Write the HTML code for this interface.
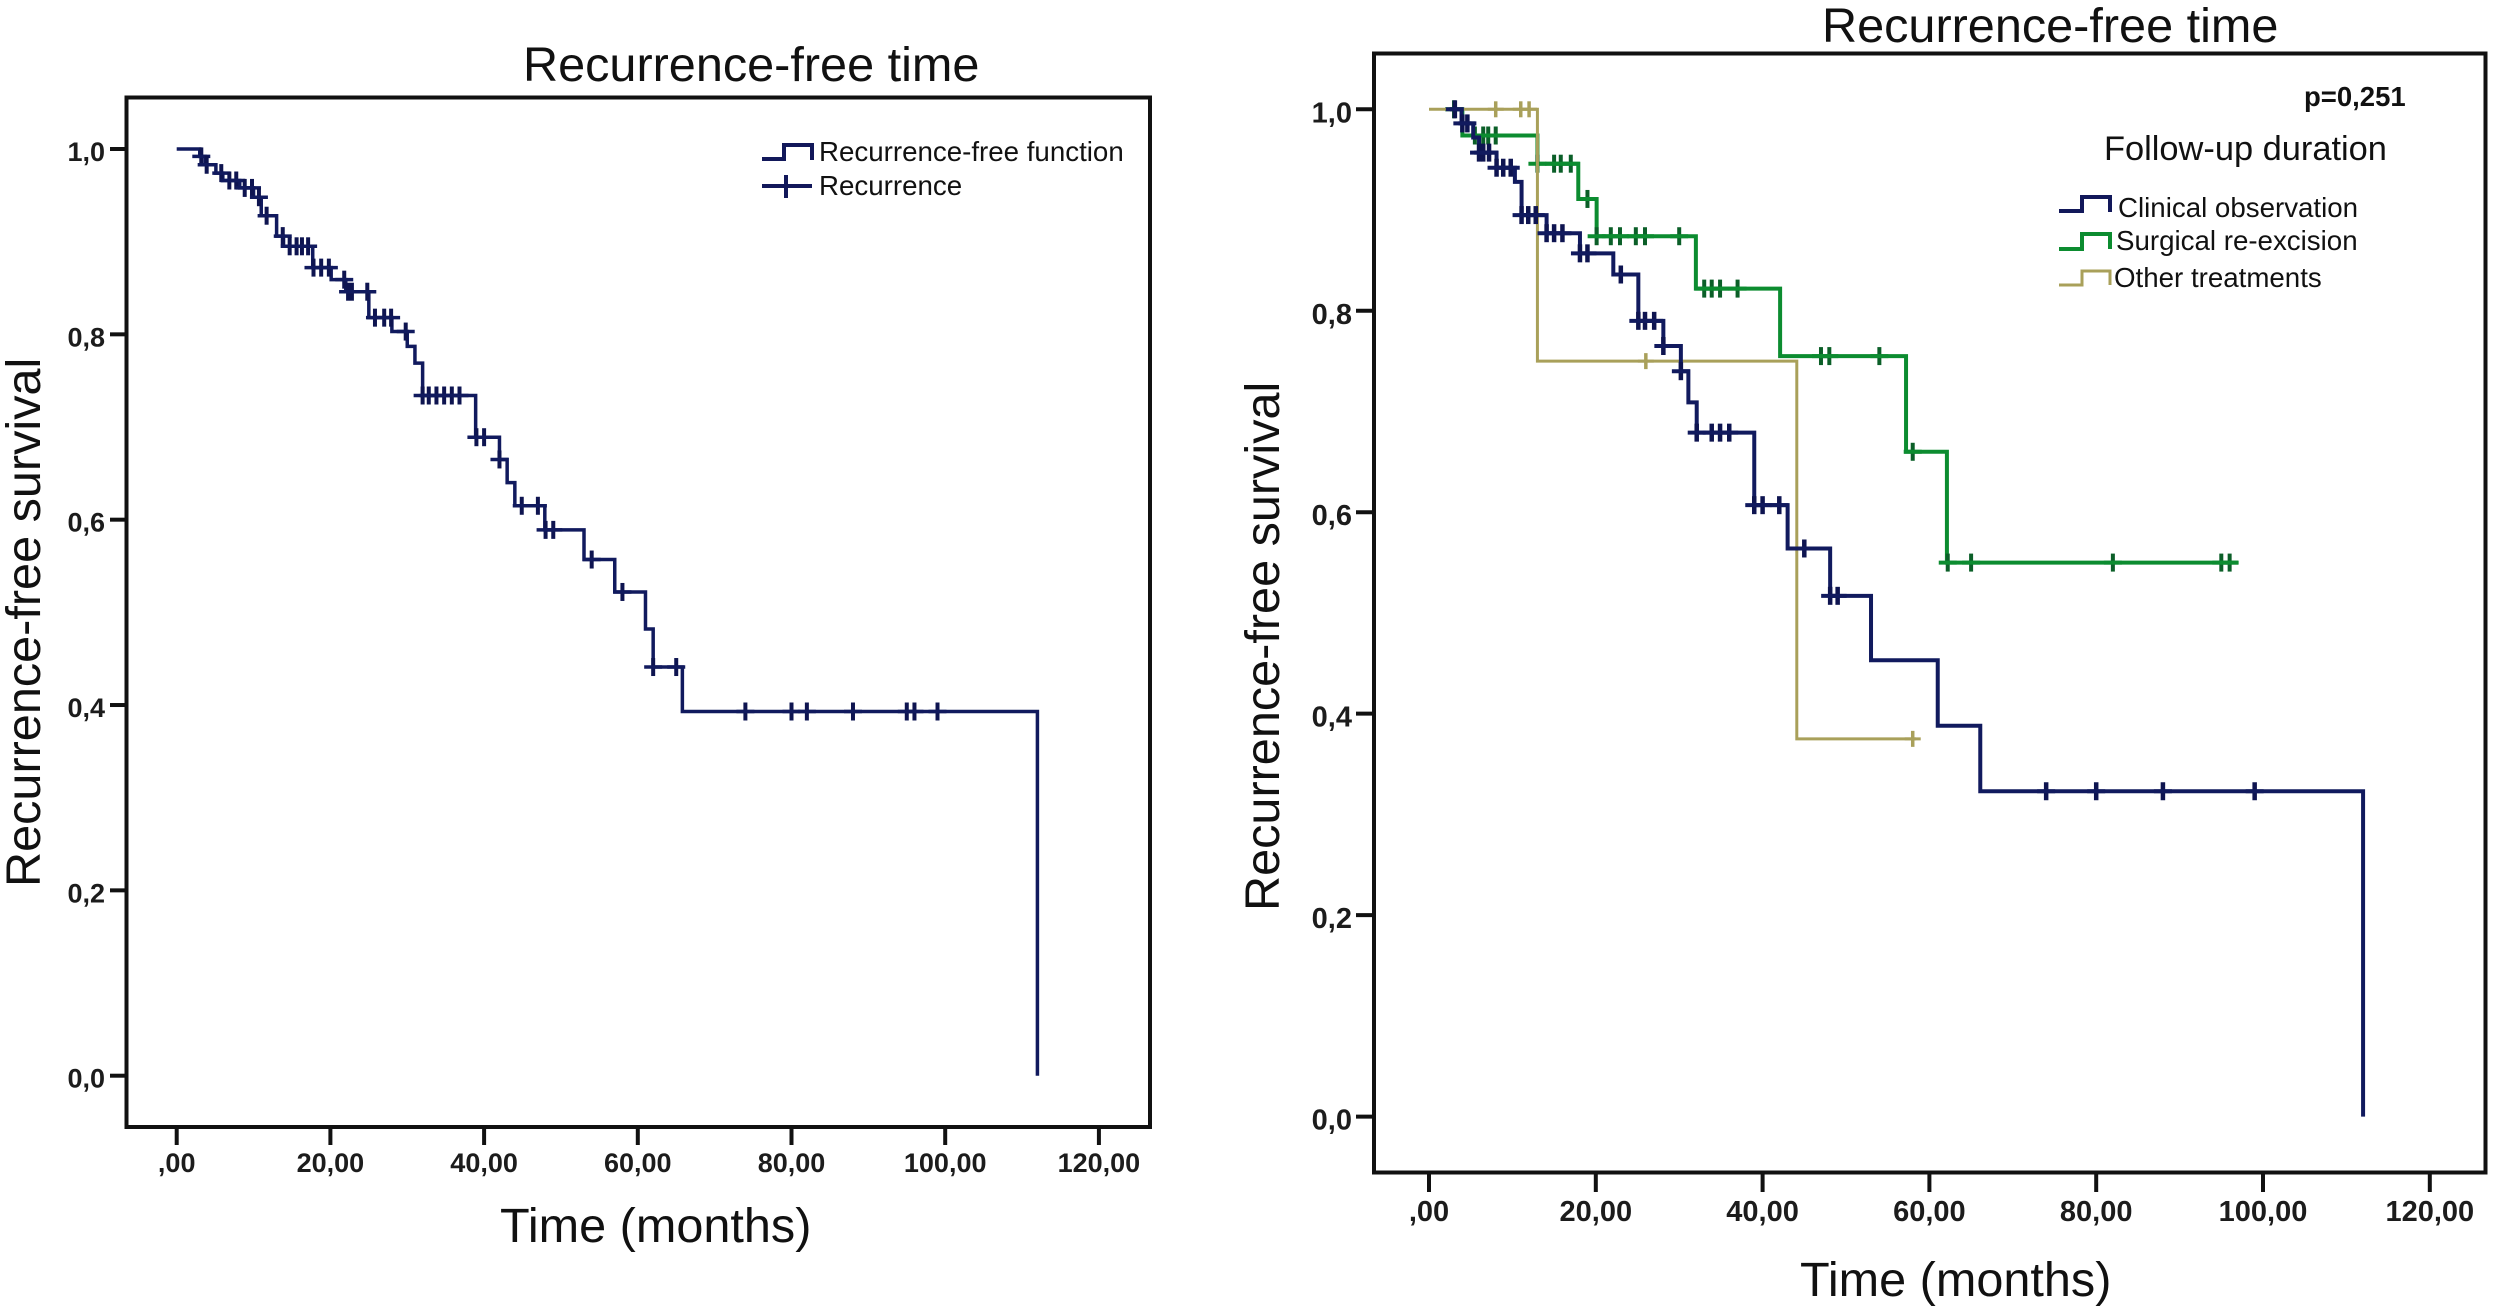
<!DOCTYPE html>
<html lang="en">
<head>
<meta charset="utf-8">
<title>Recurrence-free time</title>
<style>
html,body{margin:0;padding:0;background:#fff;width:2500px;height:1311px;overflow:hidden}
svg{display:block;font-family:"Liberation Sans",sans-serif;fill:#111}
.tick-label{font-size:27px;font-weight:bold;fill:#1c1c1c}
.tick-label-r{font-size:29px;font-weight:bold;fill:#1c1c1c}
.big{font-size:48.6px;fill:#111}
.leg{font-size:27.7px;fill:#111}
</style>
</head>
<body>
<svg id="figure" width="2500" height="1311" viewBox="0 0 2500 1311" xmlns="http://www.w3.org/2000/svg">
  <g id="left-chart">
    <rect x="126.5" y="97.5" width="1023.5" height="1029.5" fill="none" stroke="#111" stroke-width="4"/>
    <text class="big" x="523" y="81">Recurrence-free time</text>
    <text class="big" x="500" y="1242">Time (months)</text>
    <text class="big" transform="translate(40,887) rotate(-90)">Recurrence-free survival</text>
    <g>
      <path d="M762 159H784V145H812V160" fill="none" stroke="#12185a" stroke-width="4"/>
      <text class="leg" x="819" y="161">Recurrence-free function</text>
      <path d="M762 186H812M786 175V198" fill="none" stroke="#12185a" stroke-width="4"/>
      <text class="leg" x="819" y="195">Recurrence</text>
    </g>
  </g>
  <g id="right-chart">
    <rect x="1374" y="53.5" width="1111.5" height="1119" fill="none" stroke="#111" stroke-width="4"/>
    <text class="big" x="1822" y="42">Recurrence-free time</text>
    <text class="big" x="1800" y="1296">Time (months)</text>
    <text class="big" transform="translate(1279,911) rotate(-90)">Recurrence-free survival</text>
    <text x="2304" y="106" font-size="27.5" font-weight="bold">p=0,251</text>
    <text x="2104" y="160" font-size="34.4">Follow-up duration</text>
    <g>
      <path d="M2059 211H2082V197H2110V212" fill="none" stroke="#12185a" stroke-width="4"/>
      <text class="leg" x="2118" y="217">Clinical observation</text>
      <path d="M2059 249H2082V234H2110V249" fill="none" stroke="#0c8c30" stroke-width="4"/>
      <text class="leg" x="2116" y="250">Surgical re-excision</text>
      <path d="M2059 285H2082V271H2110V285" fill="none" stroke="#a9a05a" stroke-width="3"/>
      <text class="leg" x="2114" y="287">Other treatments</text>
    </g>
  </g>
</svg>
<script>
// Axis tick values and labels
var xTicks = [0, 20, 40, 60, 80, 100, 120];
var xTickLabels = [",00", "20,00", "40,00", "60,00", "80,00", "100,00", "120,00"];
var yTicks = [0, 0.2, 0.4, 0.6, 0.8, 1.0];
var yTickLabels = ["0,0", "0,2", "0,4", "0,6", "0,8", "1,0"];

// Overall curve (left chart)
var overallEventTimes = [3, 3.7, 5.1, 6, 8.2, 10, 11, 13, 13.9, 17.7, 20.1, 22, 25, 28, 30, 31, 32, 38.9, 42, 43, 44, 47.9, 53, 57, 61, 62, 65.8, 112];
var overallSurvival = [0.992, 0.983, 0.974, 0.966, 0.958, 0.948, 0.928, 0.906, 0.895, 0.872, 0.859, 0.846, 0.818, 0.803, 0.787, 0.769, 0.734, 0.689, 0.665, 0.64, 0.615, 0.589, 0.557, 0.522, 0.482, 0.441, 0.393, 0];
var overallCensorTimes = [3.2, 3.9, 5.8, 6.85, 7.75, 8.85, 9.8, 10.7, 11.7, 13.8, 14.7, 15.6, 16.3, 17.1, 17.8, 18.8, 19.8, 21.8, 22.3, 22.8, 24.8, 25.8, 27, 27.9, 29.8, 32, 32.8, 33.8, 34.8, 35.8, 36.8, 39, 40, 42, 44.9, 47, 48, 49, 54, 58, 62, 65, 74, 80, 82, 88, 95, 96, 99];

// Clinical observation (right chart)
var clinicalEventTimes = [3.9, 5.3, 6, 8.1, 10.3, 11.1, 14.1, 18.1, 22.1, 25.1, 28.1, 30.2, 31.1, 32.1, 39, 43, 48.1, 53, 61, 66.1, 112];
var clinicalSurvival = [0.986, 0.972, 0.957, 0.942, 0.928, 0.895, 0.877, 0.857, 0.836, 0.79, 0.765, 0.74, 0.709, 0.679, 0.607, 0.564, 0.517, 0.453, 0.388, 0.323, 0];
var clinicalCensorTimes = [3.1, 4, 4.6, 6, 6.5, 7.2, 8.1, 8.9, 9.8, 11.1, 11.9, 12.8, 14.1, 15, 16, 18.1, 19, 23, 25.1, 25.9, 27, 28.1, 30.2, 32.1, 33.9, 34.9, 36, 39, 40, 42, 45, 48.1, 49, 74, 80, 88, 99];

// Surgical re-excision (right chart)
var surgicalEventTimes = [4, 13, 17.9, 20.1, 32, 42.1, 57.2, 62.1];
var surgicalSurvival = [0.974, 0.946, 0.911, 0.874, 0.822, 0.755, 0.66, 0.55];
var surgicalCensorTimes = [3, 5.5, 6.5, 7.1, 8, 13, 15, 15.8, 17, 19, 20.1, 21.8, 22.9, 24.8, 25.9, 30, 33, 33.9, 34.9, 37, 47, 48, 54, 58, 62.2, 65, 82, 95, 96];
var surgicalEndTime = 97;

// Other treatments (right chart)
var otherEventTimes = [13, 44.1];
var otherSurvival = [0.75, 0.375];
var otherCensorTimes = [8, 11, 12, 26, 58];
var otherEndTime = 58.4;

var SVG_NS = "http://www.w3.org/2000/svg";

function leftX(t) { return 176.7 + 7.685 * t; }
function leftY(s) { return 1075.7 - 926.7 * s; }
function rightX(t) { return 1429 + 8.34 * t; }
function rightY(s) { return 1116.6 - 1007.3 * s; }

function survivalAt(times, values, t) {
  var s = 1;
  for (var i = 0; i < times.length; i++) { if (times[i] <= t) { s = values[i]; } }
  return s;
}

function stepPath(times, values, startT, endT, xf, yf) {
  var d = "M" + xf(startT) + " " + yf(1);
  for (var i = 0; i < times.length; i++) {
    d += "H" + xf(times[i]) + "V" + yf(values[i]);
  }
  if (endT > times[times.length - 1]) { d += "H" + xf(endT); }
  return d;
}

function drawAxes(parentId, xf, yf, o) {
  var g = document.getElementById(parentId);
  xTicks.forEach(function (v, i) {
    var tick = document.createElementNS(SVG_NS, "line");
    
    
    tick.setAttribute("x1", xf(v)); tick.setAttribute("x2", xf(v));
    tick.setAttribute("y1", o.bottom); tick.setAttribute("y2", o.xTickEnd);
    tick.setAttribute("stroke", "#111"); tick.setAttribute("stroke-width", 4);
    g.appendChild(tick);
    var lab = document.createElementNS(SVG_NS, "text");
    
    
    lab.setAttribute("class", o.labelClass);
    lab.setAttribute("x", xf(v)); lab.setAttribute("y", o.xLabelY);
    lab.setAttribute("text-anchor", "middle");
    lab.textContent = xTickLabels[i];
    g.appendChild(lab);
  });
  yTicks.forEach(function (v, i) {
    var tick = document.createElementNS(SVG_NS, "line");
    
    
    tick.setAttribute("x1", o.yTickEnd); tick.setAttribute("x2", o.left);
    tick.setAttribute("y1", yf(v)); tick.setAttribute("y2", yf(v));
    tick.setAttribute("stroke", "#111"); tick.setAttribute("stroke-width", 4);
    g.appendChild(tick);
    var lab = document.createElementNS(SVG_NS, "text");
    
    
    lab.setAttribute("class", o.labelClass);
    lab.setAttribute("x", o.yLabelX); lab.setAttribute("y", yf(v) + o.yLabelDy);
    lab.setAttribute("text-anchor", "end");
    lab.textContent = yTickLabels[i];
    g.appendChild(lab);
  });
}

function drawSeries(parentId, seriesName, times, values, censors, startT, endT, xf, yf, color, tickColor, width, tickWidth, halfTick) {
  var g = document.getElementById(parentId);
  var line = document.createElementNS(SVG_NS, "path");
  
  
  line.setAttribute("data-series", seriesName);
  line.setAttribute("d", stepPath(times, values, startT, endT, xf, yf));
  line.setAttribute("fill", "none");
  line.setAttribute("stroke", color);
  line.setAttribute("stroke-width", width);
  g.appendChild(line);
  censors.forEach(function (t) {
    var y = yf(survivalAt(times, values, t));
    var mark = document.createElementNS(SVG_NS, "line");
    
    
    mark.setAttribute("data-series", seriesName);
    mark.setAttribute("x1", xf(t)); mark.setAttribute("x2", xf(t));
    mark.setAttribute("y1", y - halfTick); mark.setAttribute("y2", y + halfTick);
    mark.setAttribute("stroke", tickColor);
    mark.setAttribute("stroke-width", tickWidth);
    g.appendChild(mark);
    var bar = document.createElementNS(SVG_NS, "line");
    
    
    bar.setAttribute("data-series", seriesName);
    bar.setAttribute("x1", xf(t) - halfTick); bar.setAttribute("x2", xf(t) + halfTick);
    bar.setAttribute("y1", y); bar.setAttribute("y2", y);
    bar.setAttribute("stroke", color);
    bar.setAttribute("stroke-width", width);
    g.appendChild(bar);
  });
}

drawAxes("left-chart", leftX, leftY, {
  bottom: 1127, xTickEnd: 1145, xLabelY: 1172, left: 126, yTickEnd: 110, yLabelX: 105, yLabelDy: 12, labelClass: "tick-label"
});
drawAxes("right-chart", rightX, rightY, {
  bottom: 1172, xTickEnd: 1192, xLabelY: 1221, left: 1374, yTickEnd: 1356, yLabelX: 1352, yLabelDy: 13, labelClass: "tick-label-r"
});

drawSeries("left-chart", "overall", overallEventTimes, overallSurvival, overallCensorTimes, 0, 112, leftX, leftY, "#111a5e", "#0e1450", 3.5, 4, 9);
drawSeries("right-chart", "surgical", surgicalEventTimes, surgicalSurvival, surgicalCensorTimes, 2.5, surgicalEndTime, rightX, rightY, "#0c8c30", "#0b5f28", 4, 4, 9);
drawSeries("right-chart", "other", otherEventTimes, otherSurvival, otherCensorTimes, 0, otherEndTime, rightX, rightY, "#a9a05a", "#a9a05a", 3, 3.5, 8);
drawSeries("right-chart", "clinical", clinicalEventTimes, clinicalSurvival, clinicalCensorTimes, 2.5, 112, rightX, rightY, "#111a5e", "#0e1450", 4, 4.5, 9);
</script>
</body>
</html>
